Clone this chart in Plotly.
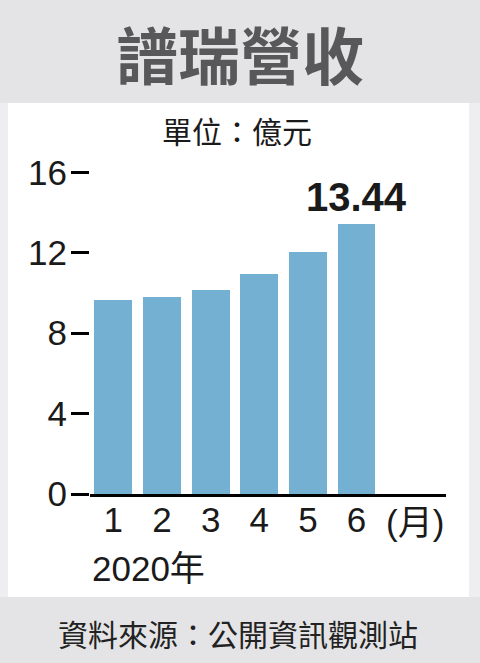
import plotly.graph_objects as go

# --- Data ---
MONTHS = [1, 2, 3, 4, 5, 6]
MONTH_LABELS = ["1", "2", "3", "4", "5", "6"]
REVENUE = [9.65, 9.80, 10.15, 10.94, 12.02, 13.44]
Y_TICKS = [0, 4, 8, 12, 16]

# --- Style ---
W, H = 480, 663
BAR_COLOR = "#73b0d1"
BAND_COLOR = "#e4e4e6"
SIDE_COLOR = "#eeeef0"
TEXT_COLOR = "#1a1a1a"
NUM_FONT = "Liberation Sans, Arial, Noto Sans CJK TC"
CJK_FONT = "Noto Sans CJK TC, Liberation Sans"


def py(px_from_top):
    """Pixel row (from top) -> paper y."""
    return (H - px_from_top) / H


def add_text(text, x, y, size, family=CJK_FONT, color=TEXT_COLOR, xref="paper"):
    fig.add_annotation(x=x, y=y, xref=xref, yref="paper", text=text,
                       showarrow=False, xanchor="center", yanchor="middle",
                       font=dict(family=family, size=size, color=color))


fig = go.Figure()
fig.add_trace(go.Bar(
    x=MONTHS, y=REVENUE, width=0.78,
    marker=dict(color=BAR_COLOR, line=dict(width=0)),
    hoverinfo="skip",
))

# last value label
fig.add_annotation(x=MONTHS[-1], y=REVENUE[-1], xref="x", yref="y",
                   text=f"<b>{REVENUE[-1]:.2f}</b>", showarrow=False,
                   xanchor="center", yanchor="bottom", yshift=3,
                   font=dict(family=NUM_FONT, size=40, color=TEXT_COLOR))

# text blocks
add_text("<b>譜瑞營收</b>", 0.5, py(53), 62, color="#58585a")
add_text("單位：億元", 237 / W, py(130), 30)
add_text("(月)", 7.2, py(522), 35, family=NUM_FONT, xref="x")
add_text("2020年", 148 / W, py(568), 35, family=NUM_FONT)
add_text("資料來源：公開資訊觀測站", 238 / W, py(633), 30, color="#222222")

# background panels
fig.add_shape(type="rect", xref="paper", yref="paper", layer="below",
              x0=0, x1=1, y0=py(103), y1=1,
              fillcolor=BAND_COLOR, line_width=0)
fig.add_shape(type="rect", xref="paper", yref="paper", layer="below",
              x0=8 / W, x1=469 / W, y0=py(597), y1=py(103),
              fillcolor="white", line_width=0)
fig.add_shape(type="rect", xref="paper", yref="paper", layer="below",
              x0=0, x1=1, y0=0, y1=py(597),
              fillcolor=BAND_COLOR, line_width=0)

fig.update_layout(
    width=W, height=H,
    margin=dict(l=0, r=0, t=0, b=0, pad=0, autoexpand=False),
    paper_bgcolor=SIDE_COLOR,
    plot_bgcolor="rgba(0,0,0,0)",
    showlegend=False,
    bargap=0,
    xaxis=dict(
        domain=[90 / W, 446 / W],
        range=[0.52, 7.84],
        tickvals=MONTHS, ticktext=MONTH_LABELS,
        ticks="", showgrid=False, zeroline=False,
        showline=True, linecolor="black", linewidth=3,
        ticklabelstandoff=-7, automargin=False,
        tickfont=dict(family=NUM_FONT, size=35, color=TEXT_COLOR),
        fixedrange=True,
    ),
    yaxis=dict(
        domain=[py(494), py(150)],
        range=[0, (494 - 150) / 20.1],
        tickvals=Y_TICKS,
        ticks="outside", ticklen=18, tickwidth=3, tickcolor="black",
        showgrid=False, zeroline=False, showline=False,
        ticklabelstandoff=-3, automargin=False,
        tickfont=dict(family=NUM_FONT, size=35, color=TEXT_COLOR),
        fixedrange=True,
    ),
)

# keep the 480x663 figure flush with the window (no body margin, no scrollbars)
page_fix = ("document.body.style.margin='0';"
            "document.body.style.overflow='hidden';"
            "document.documentElement.style.overflow='hidden';")
fig.write_html("out.html", config={"displayModeBar": False}, post_script=page_fix)
